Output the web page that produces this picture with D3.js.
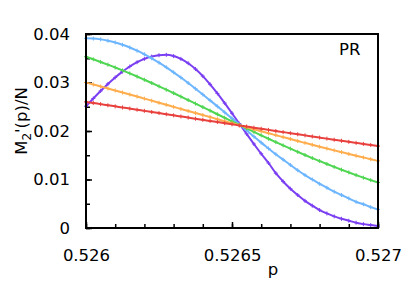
<!DOCTYPE html>
<meta charset="utf-8">
<style>
body { margin: 0; background: #fff; }
text { font-family: "DejaVu Sans", sans-serif; fill: #000; }
.tick line { stroke: #000; stroke-width: 1.5; }
</style>
<svg width="415" height="291"></svg>
<script src="https://cdn.jsdelivr.net/npm/d3@7"></script>
<script>

// p values (0.526 .. 0.527, step 0.000025)
var pValues = d3.range(41).map(function(i) { return 0.526 + i * 0.000025; });

var red = [0.02600, 0.02577, 0.02554, 0.02531, 0.02508, 0.02485, 0.02462, 0.02439, 0.02415, 0.02392,
  0.02369, 0.02346, 0.02323, 0.02300, 0.02277, 0.02253, 0.02230, 0.02207, 0.02184, 0.02161,
  0.02138, 0.02115, 0.02092, 0.02069, 0.02046, 0.02023, 0.02000, 0.01977, 0.01955, 0.01932,
  0.01910, 0.01887, 0.01865, 0.01843, 0.01820, 0.01798, 0.01777, 0.01755, 0.01733, 0.01712, 0.01690];

var orange = [0.03000, 0.02959, 0.02919, 0.02877, 0.02836, 0.02794, 0.02752, 0.02710, 0.02668, 0.02626,
  0.02583, 0.02541, 0.02498, 0.02456, 0.02414, 0.02371, 0.02329, 0.02287, 0.02244, 0.02202,
  0.02160, 0.02119, 0.02078, 0.02036, 0.01995, 0.01954, 0.01914, 0.01874, 0.01834, 0.01794,
  0.01755, 0.01716, 0.01677, 0.01639, 0.01601, 0.01564, 0.01527, 0.01491, 0.01455, 0.01419, 0.01384];

var green = [0.03530, 0.03478, 0.03424, 0.03368, 0.03309, 0.03249, 0.03187, 0.03123, 0.03057, 0.02990,
  0.02921, 0.02852, 0.02781, 0.02710, 0.02638, 0.02565, 0.02492, 0.02419, 0.02345, 0.02272,
  0.02199, 0.02126, 0.02054, 0.01982, 0.01911, 0.01840, 0.01771, 0.01703, 0.01636, 0.01570,
  0.01505, 0.01442, 0.01380, 0.01319, 0.01260, 0.01202, 0.01146, 0.01091, 0.01038, 0.00987, 0.00937];

var blue = [0.03910, 0.03905, 0.03889, 0.03862, 0.03825, 0.03778, 0.03722, 0.03656, 0.03582, 0.03499,
  0.03409, 0.03313, 0.03210, 0.03102, 0.02989, 0.02872, 0.02753, 0.02631, 0.02508, 0.02384,
  0.02260, 0.02137, 0.02014, 0.01885, 0.01760, 0.01640, 0.01520, 0.01410, 0.01300, 0.01190,
  0.01090, 0.01000, 0.00910, 0.00830, 0.00750, 0.00680, 0.00610, 0.00540, 0.00490, 0.00430, 0.00380];

var purple = [0.02510, 0.02671, 0.02826, 0.02971, 0.03105, 0.03225, 0.03330, 0.03418, 0.03487, 0.03535,
  0.03563, 0.03570, 0.03545, 0.03487, 0.03397, 0.03277, 0.03131, 0.02962, 0.02775, 0.02575,
  0.02366, 0.02153, 0.01941, 0.01732, 0.01531, 0.01340, 0.01130, 0.00960, 0.00810, 0.00680,
  0.00560, 0.00460, 0.00370, 0.00300, 0.00240, 0.00190, 0.00150, 0.00110, 0.00080, 0.00060, 0.00040];

var series = [
  {name: "purple", color: "#7b3ff2", values: purple},
  {name: "blue",   color: "#6db6ff", values: blue},
  {name: "green",  color: "#4fd652", values: green},
  {name: "orange", color: "#ffad4d", values: orange},
  {name: "red",    color: "#e8403d", values: red}
];

var xTickLabels = [0.526, 0.5265, 0.527];
var yTickLabels = [0, 0.01, 0.02, 0.03, 0.04];

var svg = d3.select("svg");
var plotLeft = 86, plotRight = 378, plotTop = 34, plotBottom = 228;

var x = d3.scaleLinear().domain([0.526, 0.527]).range([plotLeft, plotRight]);
var y = d3.scaleLinear().domain([0, 0.04]).range([plotBottom, plotTop]);

// minor ticks
svg.append("g")
    .attr("transform", "translate(0," + plotBottom + ")")
    .call(d3.axisBottom(x).tickValues(d3.range(11).map(function(i) { return 0.526 + i * 0.0001; }))
      .tickSize(-4).tickFormat(""))
    .call(function(g) { g.select(".domain").remove(); });

svg.append("g")
    .attr("transform", "translate(" + plotLeft + ",0)")
    .call(d3.axisLeft(y).tickValues(d3.range(9).map(function(i) { return i * 0.005; }))
      .tickSize(-4).tickFormat(""))
    .call(function(g) { g.select(".domain").remove(); });

// major ticks + labels
svg.append("g")
    .attr("transform", "translate(0," + plotBottom + ")")
    .call(d3.axisBottom(x).tickValues(xTickLabels).tickSize(-6).tickPadding(21)
      .tickFormat(function(d) { return String(+d.toFixed(4)); }))
    .call(function(g) { g.select(".domain").remove(); });

svg.append("g")
    .attr("transform", "translate(" + plotLeft + ",0)")
    .call(d3.axisLeft(y).tickValues(yTickLabels).tickSize(-6).tickPadding(16)
      .tickFormat(function(d) { return String(+d.toFixed(2)); }))
    .call(function(g) { g.select(".domain").remove(); });

svg.selectAll(".tick text")
    .attr("font-family", "DejaVu Sans")
    .attr("font-size", 16.5)
    .attr("fill", "#000");

var line = d3.line()
    .x(function(d, i) { return x(pValues[i]); })
    .y(function(d) { return y(d); })
    .curve(d3.curveMonotoneX);

var plot = svg.append("g");

series.forEach(function(s) {
  plot.append("path")
      .datum(s.values)
      .attr("fill", "none")
      .attr("stroke", s.color)
      .attr("stroke-width", 2)
      .attr("d", line);

  plot.selectAll(null)
      .data(s.values)
      .enter().append("path")
      .attr("transform", function(d, i) { return "translate(" + x(pValues[i]) + "," + y(d) + ")"; })
      .attr("d", "M-2,0H2M0,-2V2")
      .attr("stroke", s.color)
      .attr("stroke-width", 1);
});

// frame
svg.append("rect")
    .attr("x", plotLeft).attr("y", plotTop)
    .attr("width", plotRight - plotLeft).attr("height", plotBottom - plotTop)
    .attr("fill", "none")
    .attr("stroke", "#000")
    .attr("stroke-width", 2);

svg.append("text")
    .attr("x", 339).attr("y", 55)
    .attr("font-size", 16.5)
    .text("PR");

svg.append("text")
    .attr("x", 273).attr("y", 275)
    .attr("text-anchor", "middle")
    .attr("font-size", 16.5)
    .text("p");

var yl = svg.append("text")
    .attr("transform", "translate(27,121) rotate(-90)")
    .attr("text-anchor", "middle")
    .attr("font-size", 16.5);
yl.append("tspan").text("M");
yl.append("tspan").attr("font-size", 12).attr("dy", 4).text("2");
yl.append("tspan").attr("dy", -4).text("'(p)/N");

</script>
